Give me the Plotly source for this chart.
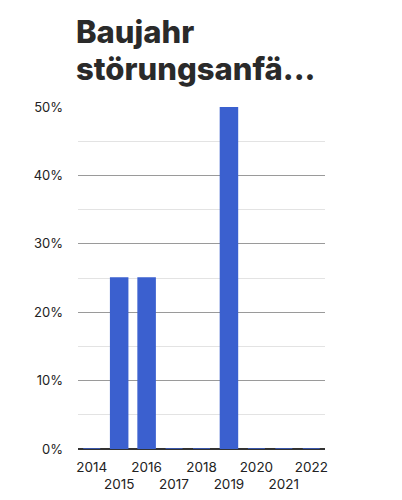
import plotly.graph_objects as go

years = ["2014", "2015", "2016", "2017", "2018", "2019", "2020", "2021", "2022"]
shares = [0, 25, 25, 0, 0, 50, 0, 0, 0]
y_ticks = [0, 10, 20, 30, 40, 50]
y_labels = ["0%", "10%", "20%", "30%", "40%", "50%"]
title_lines = ["Baujahr", "störungsanfä..."]

# alternate labels drop to a second row like the original
x_labels = [y if i % 2 == 0 else "<br>" + y for i, y in enumerate(years)]

blue = "#3b60cf"
title_font = dict(family="Inter, sans-serif", size=31, weight=800, color="#2a2a2a")

fig = go.Figure()
fig.add_trace(
    go.Bar(
        x=years,
        y=shares,
        marker=dict(color=blue, line=dict(color=blue, width=1.5)),
    )
)

# page body adds 8px, so the figure is a bit smaller than the window
fig.update_layout(
    width=394,
    height=492,
    margin=dict(l=70, r=77, t=99, b=51),
    paper_bgcolor="white",
    plot_bgcolor="white",
    bargap=0.38,
    showlegend=False,
    font=dict(family="Inter, sans-serif", color="#222222", size=13),
)
for line, shift in zip(title_lines, [56, 19]):
    fig.add_annotation(
        text=line,
        xref="paper",
        yref="paper",
        x=0,
        y=1,
        xanchor="left",
        yanchor="bottom",
        xshift=-3,
        yshift=shift,
        borderpad=0,
        showarrow=False,
        font=title_font,
    )

fig.update_xaxes(
    tickmode="array",
    tickvals=years,
    ticktext=x_labels,
    tickangle=0,
    automargin=False,
    showgrid=False,
    ticks="",
    ticklabelstandoff=8,
    tickfont=dict(size=13.5, color="#222222"),
)
fig.update_yaxes(
    range=[0, 50],
    tickmode="array",
    tickvals=y_ticks,
    ticktext=y_labels,
    automargin=False,
    showgrid=True,
    gridcolor="#9a9a9a",
    gridwidth=1,
    minor=dict(dtick=5, showgrid=True, gridcolor="#e3e3e3", gridwidth=1),
    zeroline=True,
    zerolinecolor="#333333",
    zerolinewidth=1.5,
    ticks="",
    ticklabelstandoff=14,
    tickfont=dict(size=13, color="#222222"),
)

fig.write_html("out.html")
